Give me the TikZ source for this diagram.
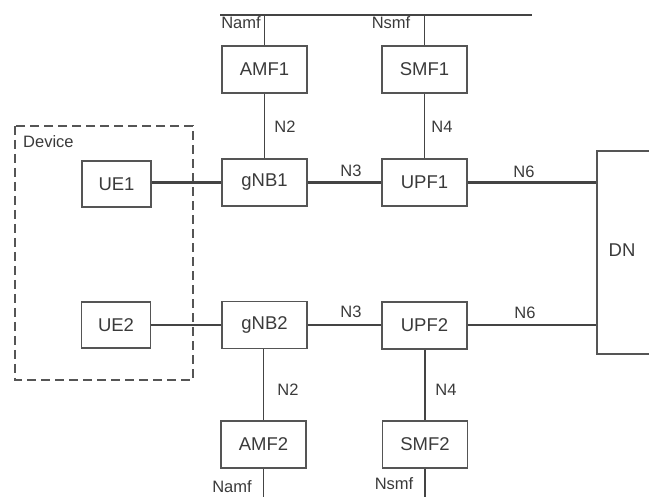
\documentclass[tikz,border=0pt]{standalone}
\usepackage{fontspec}
\setmainfont{Liberation Sans}
\definecolor{boxc}{HTML}{555555}
\definecolor{txtc}{HTML}{3A3A3A}
\definecolor{linec}{HTML}{444444}
\begin{document}
\begin{tikzpicture}[x=1pt,y=-1pt,
  nf/.style={draw=boxc, line width=1.1pt, minimum width=85pt, minimum height=47pt, inner sep=0pt, text=txtc, font=\fontsize{18.5}{18.5}\selectfont},
  ue/.style={nf, minimum width=69pt, minimum height=46pt},
  lbl/.style={text=txtc, inner sep=0pt, font=\fontsize{16.5}{16.5}\selectfont},
  thick1/.style={draw=linec, line width=2.8pt},
  thick2/.style={draw=linec, line width=2pt},
  thin1/.style={draw=linec, line width=1.3pt}]
\useasboundingbox (0,0) rectangle (649,497);
% Device box
\draw[boxc, line width=1.8pt, dash pattern=on 9pt off 5pt] (15,126) rectangle (193,380);
\node[lbl, anchor=west] (dev) at (23,142) {Device};
% nodes
\node[ue] (UE1) at (116.5,184) {UE1};
\node[ue] (UE2) at (116,325) {UE2};
\node[nf] (gNB1) at (264.5,182.5) {gNB1};
\node[nf] (UPF1) at (424.5,182.5) {UPF1};
\node[nf] (gNB2) at (264.5,325) {gNB2};
\node[nf] (UPF2) at (424.5,325.5) {UPF2};
\node[nf] (AMF1) at (264.5,69.5) {AMF1};
\node[nf] (SMF1) at (424.5,69.5) {SMF1};
\node[nf] (AMF2) at (263.5,444.5) {AMF2};
\node[nf] (SMF2) at (425,444.5) {SMF2};
\node[draw=boxc, line width=1.3pt, minimum width=110pt, minimum height=203pt, inner sep=0pt] (DNbox) at (652,252.5) {};
\node[text=txtc, inner sep=0pt, font=\fontsize{18.5}{18.5}\selectfont] (DN) at (622,250) {DN};
% bus lines
\coordinate (topL) at (220,15);
\coordinate (topR) at (532,15);
\coordinate (bot) at (0,497);
\draw[thin1] (topL) -- (topR);
\draw[thin1] (AMF1.north) -- (AMF1.north |- topL);
\draw[thin1] (SMF1.north) -- (SMF1.north |- topL);
\draw[thin1] (AMF2.south) -- (AMF2.south |- bot);
\draw[thin1] (SMF2.south) -- (SMF2.south |- bot);
% vertical links
\draw[thin1] (AMF1.south) -- (gNB1.north);
\draw[thin1] (SMF1.south) -- (UPF1.north);
\draw[thin1] (gNB2.south -| AMF2.north) -- (AMF2.north);
\draw[thin1] (UPF2.south -| SMF2.north) -- (SMF2.north);
% horizontal links
\draw[thick1] (UE1.east |- gNB1.west) -- (gNB1.west);
\draw[thick1] (gNB1.east) -- (UPF1.west);
\draw[thick1] (UPF1.east) -- (UPF1.east -| DNbox.west);
\draw[thin1] (UE2.east) -- (gNB2.west |- UE2.east);
\draw[thick2] (gNB2.east) -- (UPF2.west |- gNB2.east);
\draw[thick2] (UPF2.east) -- (UPF2.east -| DNbox.west);
% labels
\node[lbl] (l1) at (241,23) {Namf};
\node[lbl] (l2) at (391,23) {Nsmf};
\node[lbl] (l3) at (285,127) {N2};
\node[lbl] (l4) at (442,127) {N4};
\node[lbl] (l5) at (351,171) {N3};
\node[lbl] (l6) at (524,172) {N6};
\node[lbl] (l7) at (351,312) {N3};
\node[lbl] (l8) at (525,313) {N6};
\node[lbl] (l9) at (288,390) {N2};
\node[lbl] (l10) at (446,390) {N4};
\node[lbl] (l11) at (232,487) {Namf};
\node[lbl] (l12) at (394,484) {Nsmf};
\end{tikzpicture}
\end{document}
